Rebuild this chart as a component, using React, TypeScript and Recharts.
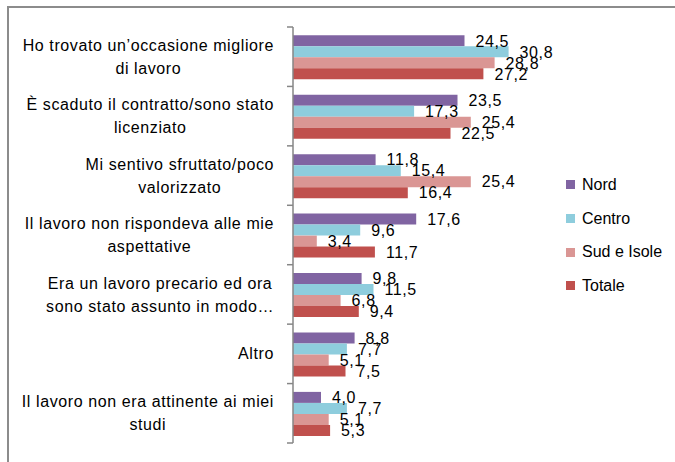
import React from "react";
import { BarChart, Bar, XAxis, YAxis, LabelList } from "recharts";

// categories (line breaks as in the original chart)
const categories = [
  "Ho trovato un\u2019occasione migliore\ndi lavoro",
  "È scaduto il contratto/sono stato\nlicenziato",
  "Mi sentivo sfruttato/poco\nvalorizzato",
  "Il lavoro non rispondeva alle mie\naspettative",
  "Era un lavoro precario ed ora\nsono stato assunto in modo\u2026",
  "Altro",
  "Il lavoro non era attinente ai miei\nstudi",
];

const nord = [24.5, 23.5, 11.8, 17.6, 9.8, 8.8, 4.0];
const centro = [30.8, 17.3, 15.4, 9.6, 11.5, 7.7, 7.7];
const sud = [28.8, 25.4, 25.4, 3.4, 6.8, 5.1, 5.1];
const totale = [27.2, 22.5, 16.4, 11.7, 9.4, 7.5, 5.3];

const seriesNames = ["Nord", "Centro", "Sud e Isole", "Totale"];
const seriesColors = ["#8064A2", "#8ECDDD", "#DA9694", "#C0504D"];

const data = categories.map((c, i) => ({
  name: c,
  nord: nord[i],
  centro: centro[i],
  sud: sud[i],
  totale: totale[i],
}));

const W = 675;
const H = 462;
const MARGIN = { top: 27, right: 137, bottom: 19, left: 0 };
const AXIS_W = 293;
const AXIS_X = MARGIN.left + AXIS_W;
const BAND = (H - MARGIN.top - MARGIN.bottom) / categories.length;
const FONT = "'Liberation Sans', Arial, sans-serif";
const FS = 16;
const LS = 0.6;

let ctx: CanvasRenderingContext2D | null = null;
const textWidth = (s: string) => {
  if (!ctx) ctx = document.createElement("canvas").getContext("2d");
  if (!ctx) return s.length * 8;
  ctx.font = `${FS}px ${FONT}`;
  return ctx.measureText(s).width + s.length * LS;
};

const fmt = (v: any) => Number(v).toFixed(1).replace(".", ",");

// label block is centred text, block right-aligned next to the axis
const CategoryTick = (props: any) => {
  const { y, payload, index } = props;
  const lines: string[] = String(payload.value).split("\n");
  const maxW = Math.max(...lines.map(textWidth));
  const cx = AXIS_X - 19 - maxW / 2;
  const lh = 23;
  const startY = y - ((lines.length - 1) * lh) / 2;
  return (
    <g>
      <line x1={AXIS_X - 6} x2={AXIS_X} y1={y - BAND / 2} y2={y - BAND / 2} stroke="#868686" strokeWidth={1.5} />
      {index === categories.length - 1 && (
        <line x1={AXIS_X - 6} x2={AXIS_X} y1={y + BAND / 2} y2={y + BAND / 2} stroke="#868686" strokeWidth={1.5} />
      )}
      <text textAnchor="middle" fontFamily={FONT} fontSize={FS} letterSpacing={LS} fill="#000">
        {lines.map((l, i) => (
          <tspan key={i} x={cx} y={startY + i * lh} dy="0.35em">
            {l}
          </tspan>
        ))}
      </text>
    </g>
  );
};

const keys = ["nord", "centro", "sud", "totale"];

export default function App() {
  return (
    <div style={{ position: "absolute", left: 0, top: 0, width: W, height: H, overflow: "hidden", background: "#fff" }}>
      <div
        style={{
          position: "absolute",
          left: 7,
          top: 6,
          width: W,
          height: H,
          borderLeft: "2px solid #8c8c8c",
          borderTop: "2px solid #8c8c8c",
        }}
      />
      <div style={{ position: "absolute", left: 0, top: 0 }}>
        <BarChart
          width={W}
          height={H}
          data={data}
          layout="vertical"
          margin={MARGIN}
          barCategoryGap="14%"
          barGap={0}
        >
          <XAxis type="number" domain={[0, 35]} hide />
          <YAxis
            type="category"
            dataKey="name"
            width={AXIS_W}
            axisLine={{ stroke: "#868686", strokeWidth: 1.5 }}
            tickLine={false}
            tick={<CategoryTick />}
            interval={0}
          />
          {keys.map((k, i) => (
            <Bar key={k} dataKey={k} name={seriesNames[i]} fill={seriesColors[i]} isAnimationActive={false}>
              <LabelList
                dataKey={k}
                position="right"
                offset={11}
                formatter={fmt}
                style={{ fontFamily: FONT, fontSize: FS, letterSpacing: LS, fill: "#000" }}
              />
            </Bar>
          ))}
        </BarChart>
      </div>
      {/* legend */}
      <div style={{ position: "absolute", left: 566, top: 168, fontFamily: FONT, fontSize: FS }}>
        {seriesNames.map((n, i) => (
          <div key={n} style={{ display: "flex", alignItems: "center", height: 33.7 }}>
            <span style={{ width: 9, height: 9, background: seriesColors[i], marginRight: 7 }} />
            <span>{n}</span>
          </div>
        ))}
      </div>
    </div>
  );
}
